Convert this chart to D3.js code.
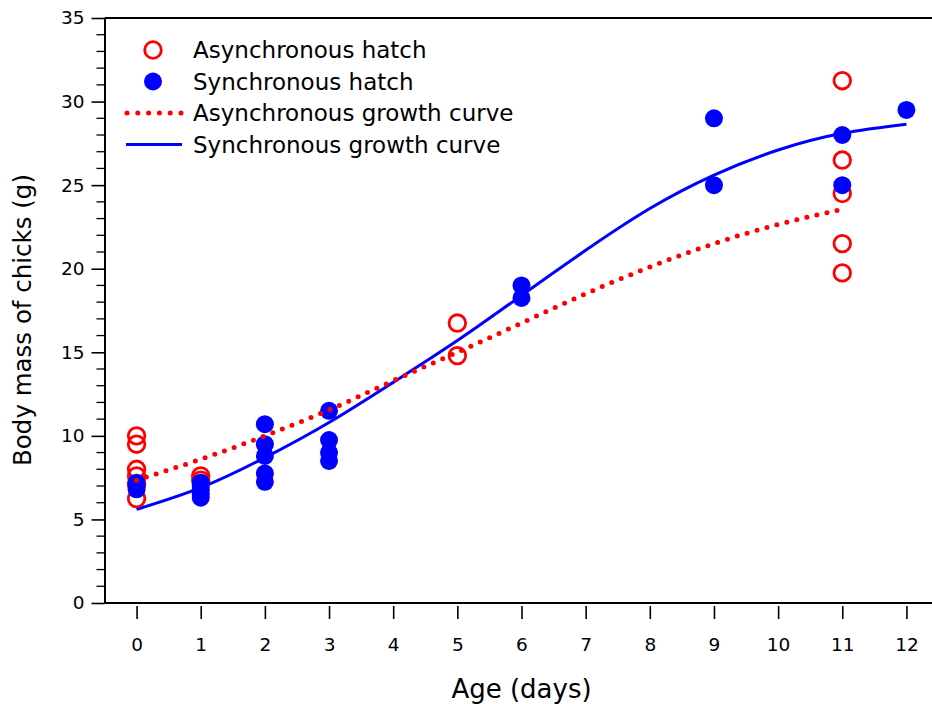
<!DOCTYPE html>
<html>
<head>
<meta charset="utf-8">
<script src="https://cdn.jsdelivr.net/npm/d3@7"></script>
<style>
  html, body { margin: 0; padding: 0; background: #fff; }
  svg { display: block; }
  text { font-family: "DejaVu Sans", Verdana, sans-serif; fill: #000; }
</style>
</head>
<body>
<svg id="chart" width="932" height="704"></svg>
<script>
// Individual chick weights, asynchronous broods
const asyncDays = [0, 0, 0, 0, 0, 0, 1, 1, 5, 5, 11, 11, 11, 11, 11];
const asyncMass = [10.0, 9.5, 8.0, 7.6, 7.1, 6.25, 7.6, 7.35, 16.75, 14.8, 31.25, 26.5, 24.5, 21.5, 19.75];

// Individual chick weights, synchronous broods
const syncDays = [0, 0, 0, 1, 1, 1, 1, 1, 2, 2, 2, 2, 2, 3, 3, 3, 3, 6, 6, 9, 9, 11, 11, 12];
const syncMass = [7.2, 7.0, 6.8, 7.2, 7.0, 6.75, 6.5, 6.3, 10.7, 9.5, 8.8, 7.75, 7.25, 11.5, 9.75, 9.0, 8.5, 19.0, 18.25, 29.0, 25.0, 28.0, 25.0, 29.5];

// Fitted growth curves, sampled daily
const asyncCurveDays = [0, 1, 2, 3, 4, 5, 6, 7, 8, 9, 10, 11];
const asyncCurveMass = [7.35, 8.6, 10.0, 11.55, 13.3, 15.0, 16.75, 18.5, 20.1, 21.5, 22.65, 23.55];
const syncCurveDays = [0, 1, 2, 3, 4, 5, 6, 7, 8, 9, 10, 11, 12];
const syncCurveMass = [5.6, 6.9, 8.7, 10.8, 13.2, 15.7, 18.4, 21.1, 23.6, 25.6, 27.1, 28.1, 28.65];

// Axis ticks
const xTicks = [0, 1, 2, 3, 4, 5, 6, 7, 8, 9, 10, 11, 12];
const yMajorTicks = [0, 5, 10, 15, 20, 25, 30, 35];
const yMinorTicks = d3.range(0, 36, 1).filter(v => v % 5 !== 0);

const legendLabels = ["Asynchronous hatch", "Synchronous hatch", "Asynchronous growth curve", "Synchronous growth curve"];

const RED = "#ff0000", BLUE = "#0000ff";
const FONT = "DejaVu Sans, Verdana, sans-serif";
const svg = d3.select("#chart");

const x = d3.scaleLinear().domain([-0.5, 12.5]).range([104.5, 938.5]);
const y = d3.scaleLinear().domain([0, 35]).range([603, 18]);
const left = 104.5, right = 932;

// frame: top edge
svg.append("line").attr("x1", left).attr("x2", right).attr("y1", y(35)).attr("y2", y(35))
  .attr("stroke", "#000").attr("stroke-width", 2);

// y axis with major and minor ticks
const yAxis = d3.axisLeft(y).tickValues(yMajorTicks).tickSize(13).tickPadding(7).tickSizeOuter(0);
const gy = svg.append("g").attr("transform", `translate(${left},0)`).call(yAxis);
gy.select(".domain").attr("stroke-width", 2);
gy.selectAll(".tick line").attr("stroke-width", 1.6);
gy.selectAll(".tick text").attr("font-size", 18.5).attr("font-family", FONT);
svg.append("g").selectAll("line").data(yMinorTicks).join("line")
  .attr("x1", left - 8).attr("x2", left).attr("y1", d => y(d)).attr("y2", d => y(d))
  .attr("stroke", "#000").attr("stroke-width", 1.3);

// x axis: baseline, detached ticks below it
svg.append("line").attr("x1", left).attr("x2", right).attr("y1", 603).attr("y2", 603)
  .attr("stroke", "#000").attr("stroke-width", 2);
const xAxis = d3.axisBottom(x).tickValues(xTicks).tickSize(13).tickPadding(19).tickSizeOuter(0);
const gx = svg.append("g").attr("transform", "translate(0,606)").call(xAxis);
gx.select(".domain").remove();
gx.selectAll(".tick line").attr("stroke-width", 1.6);
gx.selectAll(".tick text").attr("font-size", 18.5).attr("font-family", FONT);

// axis titles
svg.append("text").attr("x", x(6) ).attr("y", 698).attr("text-anchor", "middle")
  .attr("font-size", 26).text("Age (days)");
svg.append("text").attr("transform", "translate(31,320) rotate(-90)").attr("text-anchor", "middle")
  .attr("font-size", 24.5).text("Body mass of chicks (g)");

// points
const asyncPts = asyncDays.map((d, i) => ({ d, m: asyncMass[i] }));
const syncPts = syncDays.map((d, i) => ({ d, m: syncMass[i] }));

svg.append("g").selectAll("circle").data(asyncPts).join("circle")
  .attr("cx", p => x(p.d)).attr("cy", p => y(p.m)).attr("r", 8.3)
  .attr("fill", "none").attr("stroke", RED).attr("stroke-width", 2.8);

svg.append("g").selectAll("circle").data(syncPts).join("circle")
  .attr("cx", p => x(p.d)).attr("cy", p => y(p.m)).attr("r", 9)
  .attr("fill", BLUE);

// growth curves
const line = d3.line().x(p => x(p[0])).y(p => y(p[1])).curve(d3.curveNatural);
svg.append("path").datum(syncCurveDays.map((d, i) => [d, syncCurveMass[i]]))
  .attr("d", line).attr("fill", "none").attr("stroke", BLUE).attr("stroke-width", 3);
svg.append("path").datum(asyncCurveDays.map((d, i) => [d, asyncCurveMass[i]]))
  .attr("d", line).attr("fill", "none").attr("stroke", RED).attr("stroke-width", 5)
  .attr("stroke-linecap", "round").attr("stroke-dasharray", "0 10.3");

// legend
const lg = svg.append("g");
const rows = [50, 81.5, 113, 144.5];
lg.append("circle").attr("cx", 153).attr("cy", rows[0]).attr("r", 8.3)
  .attr("fill", "none").attr("stroke", RED).attr("stroke-width", 2.8);
lg.append("circle").attr("cx", 153).attr("cy", rows[1]).attr("r", 9).attr("fill", BLUE);
lg.append("line").attr("x1", 127).attr("x2", 182).attr("y1", rows[2]).attr("y2", rows[2])
  .attr("stroke", RED).attr("stroke-width", 5).attr("stroke-linecap", "round").attr("stroke-dasharray", "0 10.8");
lg.append("line").attr("x1", 126).attr("x2", 182).attr("y1", rows[3]).attr("y2", rows[3])
  .attr("stroke", BLUE).attr("stroke-width", 3);
lg.selectAll("text").data(legendLabels).join("text")
  .attr("x", 193).attr("y", (d, i) => rows[i]).attr("dy", "0.36em")
  .attr("font-size", 23).text(d => d);
</script>
</body>
</html>
